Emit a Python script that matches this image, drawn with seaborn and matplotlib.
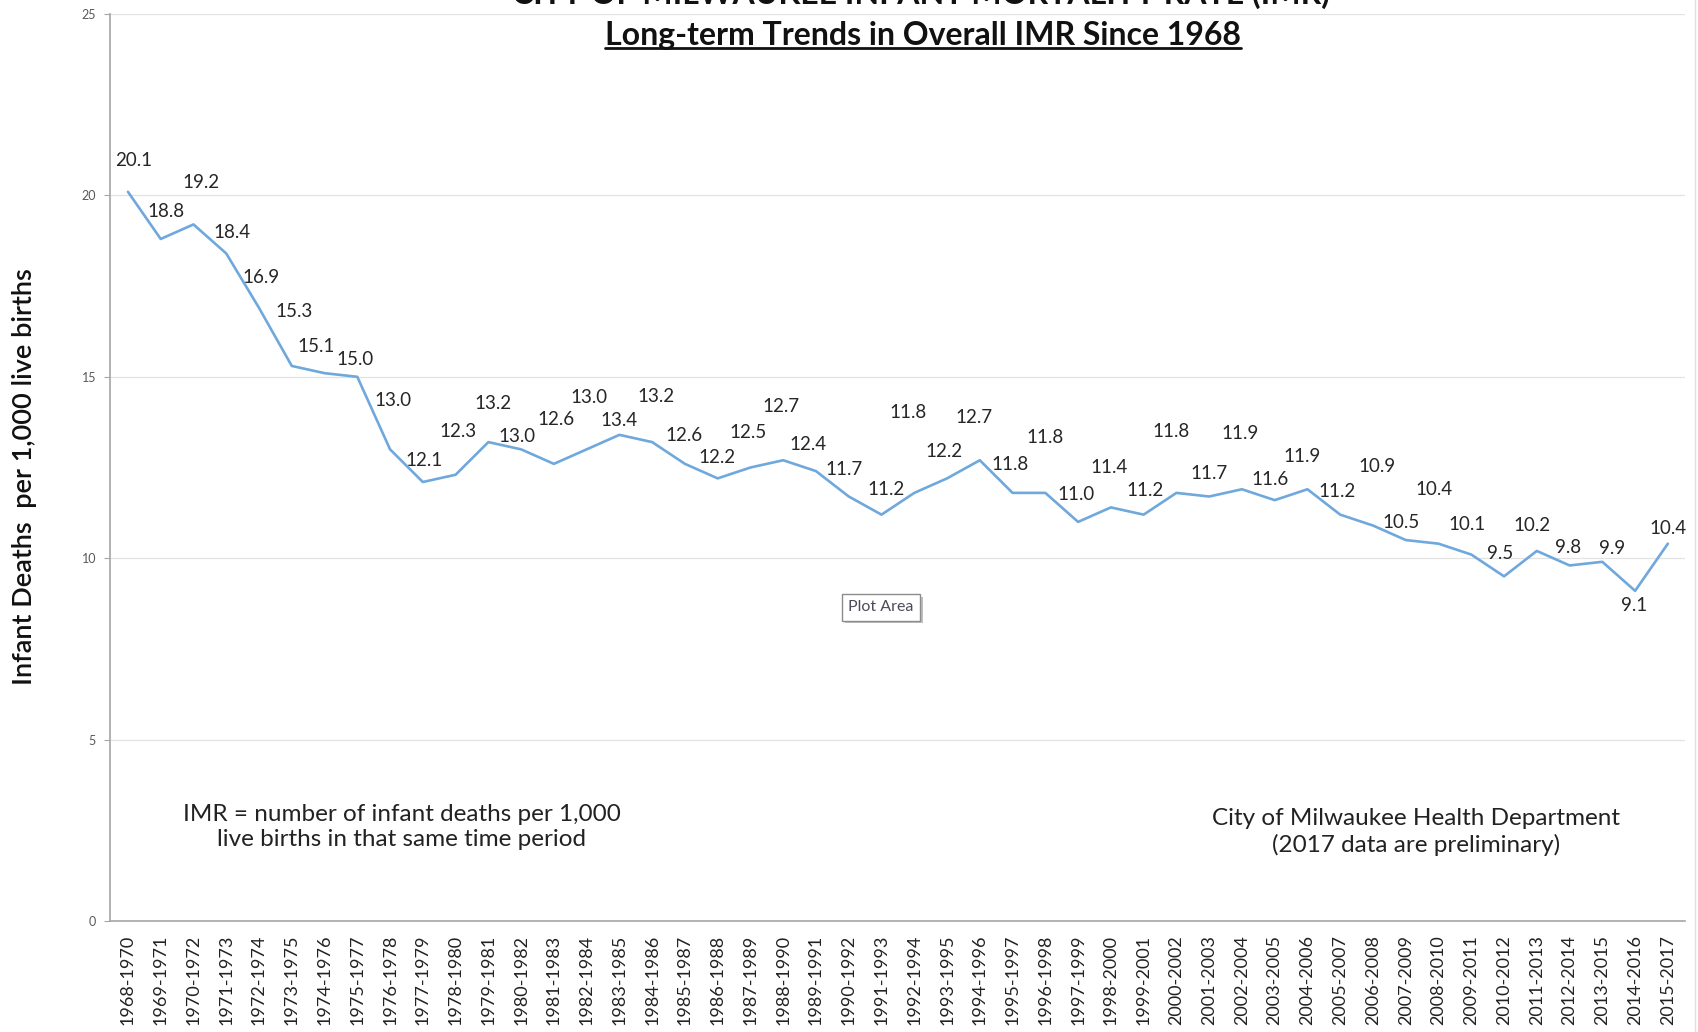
import pandas as pd
import matplotlib.pyplot as plt
import seaborn as sns
from matplotlib.lines import Line2D
import matplotlib.patheffects as pe

# data: 3-year rolling infant mortality rate, City of Milwaukee
periods = [f'{y}-{y + 2}' for y in range(1968, 2016)]
imr = [20.1, 18.8, 19.2, 18.4, 16.9, 15.3, 15.1, 15.0, 13.0, 12.1,
       12.3, 13.2, 13.0, 12.6, 13.0, 13.4, 13.2, 12.6, 12.2, 12.5,
       12.7, 12.4, 11.7, 11.2, 11.8, 12.2, 12.7, 11.8, 11.8, 11.0,
       11.4, 11.2, 11.8, 11.7, 11.9, 11.6, 11.9, 11.2, 10.9, 10.5,
       10.4, 10.1, 9.5, 10.2, 9.8, 9.9, 9.1, 10.4]
y_ticks = [0, 5, 10, 15, 20, 25]

# label offsets (pixels, right / up) copied from the hand-placed excel labels
label_offsets = [(5, 29), (5, 25), (7, 39), (5, 19), (2, 28), (2, 50), (-8, 25), (-2, 16),
                 (3, 45), (1, 20), (2, 40), (4, 36), (-4, 12), (2, 41), (2, 48), (0, 13),
                 (4, 42), (-1, 26), (-1, 19), (-2, 32), (-2, 50), (-7, 25), (-4, 25), (4, 23),
                 (-6, 74), (-3, 25), (-5, 40), (-2, 26), (0, 51), (-2, 25), (-2, 37), (1, 22),
                 (-5, 57), (0, 21), (-2, 52), (-4, 19), (-5, 30), (-3, 21), (4, 55), (-4, 16),
                 (-4, 50), (-4, 28), (-4, 21), (-4, 24), (-1, 17), (9, 12), (-1, -14), (0, 14)]

df = pd.DataFrame({'period': periods, 'imr': imr})

sns.set_style('white')
plt.rcParams['font.family'] = ['Lato', 'DejaVu Sans']

fig = plt.figure(figsize=(16.99, 10.32), dpi=100)
ax = fig.add_axes([0.0647, 0.1076, 0.9270, 0.8788])

sns.lineplot(data=df, x='period', y='imr', sort=False, color='#6fa8dc', linewidth=1.9, ax=ax)

# data labels
for i, (v, off) in enumerate(zip(imr, label_offsets)):
    ax.annotate(f'{v:.1f}', (i, v), xytext=(off[0] * 1.08, off[1] * 1.08),
                textcoords='offset pixels', ha='center', va='center',
                fontsize=13.5, color='#262626')

ax.set_ylim(0, 25)
ax.set_xlim(-0.55, len(periods) - 0.48)
ax.set_yticks(y_ticks)
ax.grid(axis='y', color='#e3e3e3', linewidth=0.9)
ax.grid(axis='x', visible=False)

for s in ['top', 'right']:
    ax.spines[s].set_visible(False)
for s in ['left', 'bottom']:
    ax.spines[s].set_color('#a6a6a6')
    ax.spines[s].set_linewidth(1.2)

ax.set_xticks(range(len(periods)))
ax.set_xticklabels(periods, rotation=90, fontsize=13, color='#222222')
ax.tick_params(axis='x', direction='in', length=4, color='#a6a6a6', pad=10)
ax.tick_params(axis='y', direction='out', length=4, color='#a6a6a6', labelsize=9,
               labelcolor='#595959', left=True, pad=6)

ax.set_xlabel('')
ax.set_ylabel('Infant Deaths  per 1,000 live births', fontsize=19.5, fontweight='semibold',
              color='#111111')
ax.yaxis.set_label_coords(-0.046, 0.49)

# notes inside the plot
ax.text(0.1854, 0.1036, 'IMR = number of infant deaths per 1,000\nlive births in that same time period',
        transform=ax.transAxes, ha='center', va='center', fontsize=17.5,
        color='#222222', linespacing=1.25)
ax.text(0.829, 0.098, 'City of Milwaukee Health Department\n(2017 data are preliminary)',
        transform=ax.transAxes, ha='center', va='center', fontsize=17.5,
        color='#222222', linespacing=1.25)

# the excel "Plot Area" hover tip left in the screenshot
ax.text(0.4895, 0.346, 'Plot Area', transform=ax.transAxes, ha='center', va='center',
        fontsize=11.5, color='#4a4a5a',
        bbox=dict(boxstyle='square,pad=0.4', fc='white', ec='#8c8c8c', lw=1,
                  path_effects=[pe.withSimplePatchShadow(offset=(2, -2), shadow_rgbFace='#b0b0b0',
                                                         alpha=0.8)]))

# title (first line runs off the top of the screenshot)
fig.text(0.542, 1.006, 'CITY OF MILWAUKEE INFANT MORTALITY RATE (IMR)',
         ha='center', va='center', fontsize=23, fontweight='bold', color='#111111')
t2 = fig.text(0.543, 0.966, 'Long-term Trends in Overall IMR Since 1968',
              ha='center', va='center', fontsize=23, fontweight='bold', color='#111111')

# underline the second title line
fig.canvas.draw()
bb = t2.get_window_extent().transformed(fig.transFigure.inverted())
fig.add_artist(Line2D([bb.x0, bb.x1], [bb.y0 + 0.002, bb.y0 + 0.002], color='#111111',
                      linewidth=2, transform=fig.transFigure))

# faint window edge on the right
fig.add_artist(Line2D([0.9975, 0.9975], [0, 1], color='#e0e0e0', linewidth=1,
                      transform=fig.transFigure))

plt.savefig('out.png', dpi=100)
